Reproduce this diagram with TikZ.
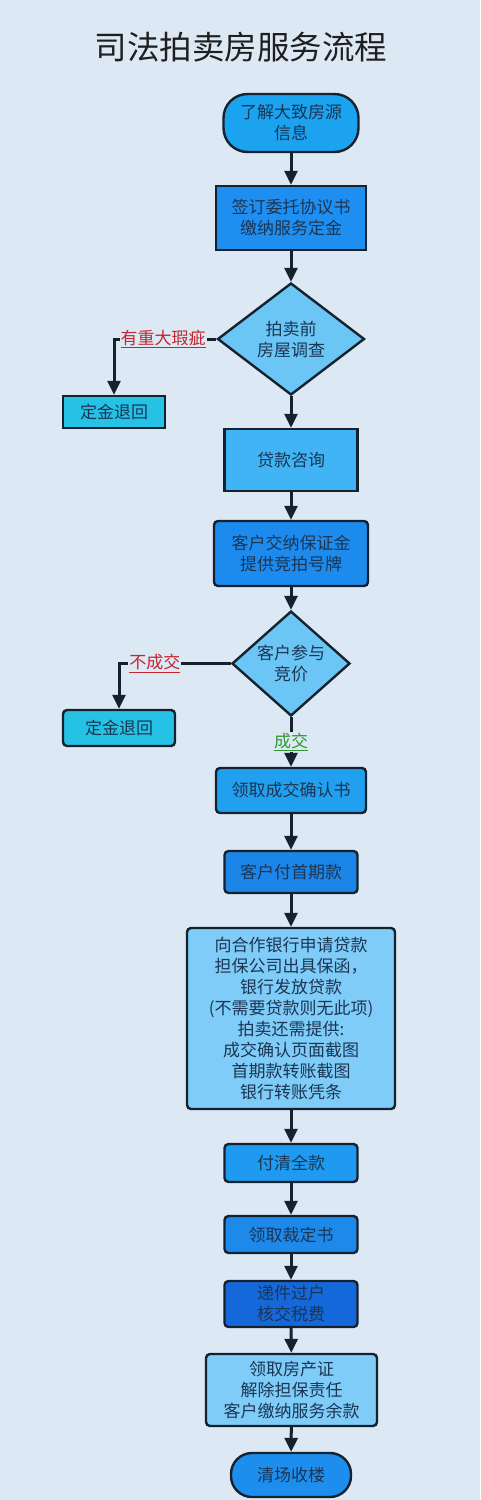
\documentclass[tikz,border=0pt]{standalone}
\usepackage{fontspec}
\setmainfont{Noto Sans CJK SC}
\usetikzlibrary{shapes.geometric,arrows.meta}
\definecolor{bg}{HTML}{DDE8F5}
\definecolor{edge}{HTML}{15222E}
\definecolor{ntext}{HTML}{1C3553}
\definecolor{cA}{HTML}{1BA3F0}
\definecolor{cB}{HTML}{1E8FF0}
\definecolor{cDia}{HTML}{6BC5F5}
\definecolor{cRej}{HTML}{26C2E6}
\definecolor{cLoan}{HTML}{40B4F5}
\definecolor{cC}{HTML}{1D8BEE}
\definecolor{cD}{HTML}{22A0F0}
\definecolor{cE}{HTML}{1C86E8}
\definecolor{cLight}{HTML}{7ECCF7}
\definecolor{cF}{HTML}{1E9AF0}
\definecolor{cG}{HTML}{1D8AEB}
\definecolor{cH}{HTML}{1568DA}
\definecolor{cI}{HTML}{1E8EEE}
\definecolor{redlab}{HTML}{C3262F}
\definecolor{greenlab}{HTML}{2E9A2E}
\tikzset{
  base/.style={draw=edge, line width=2.4pt, text=ntext, align=center, inner sep=0pt,
    font=\fontsize{17}{21}\selectfont},
  boxsq/.style={base, rectangle},
  boxrd/.style={base, rectangle, rounded corners=4pt},
  term/.style={base, rectangle},
  dia/.style={base, diamond},
  arr/.style={draw=edge, line width=3pt, -{Triangle[width=13pt,length=14pt]}},
  lab/.style={fill=bg, inner sep=1pt, font=\fontsize{17}{21}\selectfont}
}
\begin{document}
\begin{tikzpicture}[x=1pt,y=-1pt]
\fill[bg] (0,0) rectangle (480,1500);
\useasboundingbox (0,0) rectangle (480,1500);
\node[text={black!88}, font=\fontsize{32.5}{38}\selectfont] (title) at (241,47) {司法拍卖房服务流程};

\node[term, fill=cA, rounded corners=24pt, minimum width=135pt, minimum height=58pt] (n1) at (291,123) {了解大致房源\\信息};
\node[boxsq, fill=cB, minimum width=150pt, minimum height=64pt] (n2) at (291,218) {签订委托协议书\\缴纳服务定金};
\node[dia, fill=cDia, minimum width=147pt, minimum height=112pt] (d1) at (291,339) {拍卖前\\房屋调查};
\node[boxsq, fill=cRej, minimum width=102pt, minimum height=32pt] (r1) at (114,412) {定金退回};
\node[boxsq, fill=cLoan, minimum width=133pt, minimum height=62pt] (n3) at (291,460) {贷款咨询};
\node[boxrd, fill=cC, minimum width=154pt, minimum height=65pt] (n4) at (291,553.5) {客户交纳保证金\\提供竞拍号牌};
\node[dia, fill=cDia, minimum width=118pt, minimum height=91pt] (d2) at (291,663.5) {客户参与\\竞价};
\node[boxrd, fill=cRej, minimum width=112pt, minimum height=36pt] (r2) at (119,728) {定金退回};
\node[boxrd, fill=cD, minimum width=150pt, minimum height=45pt] (n5) at (291,790.5) {领取成交确认书};
\node[boxrd, fill=cE, minimum width=133pt, minimum height=42pt] (n6) at (291,872) {客户付首期款};
\node[boxrd, fill=cLight, minimum width=208pt, minimum height=181pt] (n7) at (291,1018.5) {向合作银行申请贷款\\担保公司出具保函，\\银行发放贷款\\(不需要贷款则无此项)\\拍卖还需提供:\\成交确认页面截图\\首期款转账截图\\银行转账凭条};
\node[boxrd, fill=cF, minimum width=133pt, minimum height=38pt] (n8) at (291,1163) {付清全款};
\node[boxrd, fill=cG, minimum width=133pt, minimum height=37pt] (n9) at (291,1234.5) {领取裁定书};
\node[boxrd, fill=cH, minimum width=133pt, minimum height=46pt] (n10) at (291,1304) {递件过户\\核交税费};
\node[boxrd, fill=cLight, minimum width=171pt, minimum height=72pt] (n11) at (291.5,1390) {领取房产证\\解除担保责任\\客户缴纳服务余款};
\node[term, fill=cI, rounded corners=21pt, minimum width=120pt, minimum height=44pt] (n12) at (291,1475) {清场收楼};

\draw[arr] (n1) -- (n2);
\draw[arr] (n2) -- (d1);
\draw[arr] (d1.west) -| node[lab, pos=0.26, text=redlab] {\underline{有重大瑕疵}} (r1.north);
\draw[arr] (d1) -- (n3);
\draw[arr] (n3) -- (n4);
\draw[arr] (n4) -- (d2);
\draw[arr] (d2.west) -| node[lab, pos=0.34, text=redlab] {\underline{不成交}} (r2.north);
\draw[arr] (d2) -- node[lab, pos=0.5, text=greenlab] {\underline{成交}} (n5);
\draw[arr] (n5) -- (n6);
\draw[arr] (n6) -- (n7);
\draw[arr] (n7) -- (n8);
\draw[arr] (n8) -- (n9);
\draw[arr] (n9) -- (n10);
\draw[arr] (n10) -- (n11);
\draw[arr] (n11) -- (n12);
\end{tikzpicture}
\end{document}
